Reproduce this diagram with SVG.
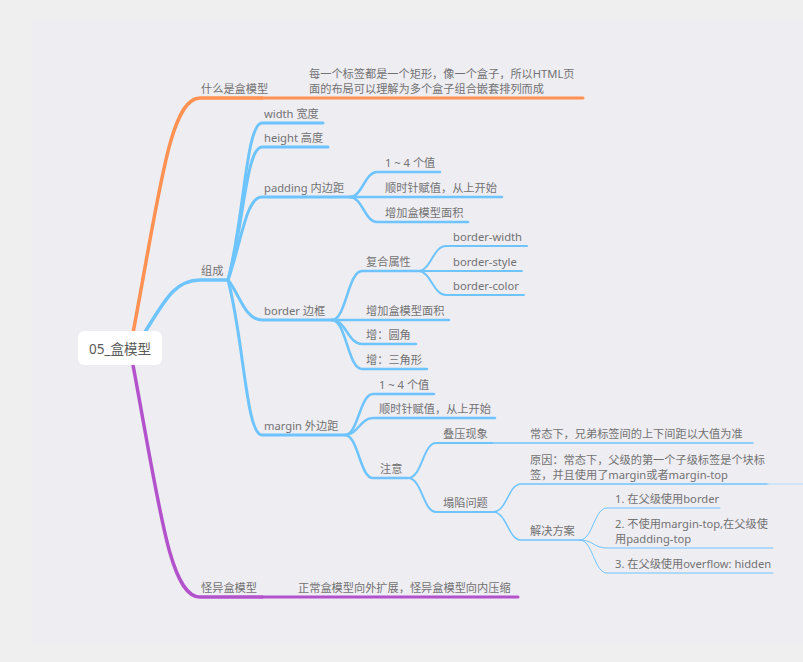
<svg xmlns="http://www.w3.org/2000/svg" width="803" height="662" viewBox="0 0 803 662">
<style>
text{font-family:'Noto Sans','Noto Sans CJK SC',sans-serif;font-size:11.2px;fill:#727272}
.root{font-size:13.5px;fill:#5a5a5a}
path{fill:none;stroke-linecap:round;stroke-linejoin:round}
.o{stroke:#ff9152}
.b{stroke:#6ec4ff}
.p{stroke:#b353cc}
.w1{stroke-width:3.5}
.w2{stroke-width:3}
.w3{stroke-width:2.5}
.w4{stroke-width:2}
.w5{stroke-width:1.5}
.w6{stroke-width:1}
</style>
<rect x="0" y="0" width="803" height="662" fill="#efefef"/>
<rect x="32" y="19" width="771" height="625" fill="#eeedf2"/>
<g id="connectors">
<path class="o w1" d="M133,333 C160,190 170,98 200,98 L262,98"/>
<path class="o w2" d="M262,98 L583,98"/>
<path class="b w1" d="M145,332 C165,300 175,280 200,280 L228,280"/>
<path class="p w1" d="M133,365 C160,510 170,597 200,597 L262,597"/>
<path class="p w2" d="M262,597 L518,597"/>
<path class="b w2" d="M228,280 C244,220 246,123 262,123 L323,123"/>
<path class="b w2" d="M228,280 C244,225 246,147 262,147 L328,147"/>
<path class="b w2" d="M228,280 C242,240 246,197 262,197 L350,197"/>
<path class="b w2" d="M228,280 C240,295 245,320 262,320 L332,320"/>
<path class="b w2" d="M228,280 C244,340 246,435 262,435 L345,435"/>
<path class="b w3" d="M350,197 C362,197 365,172 377,172 L440,172"/>
<path class="b w3" d="M350,197 L502,197"/>
<path class="b w3" d="M350,197 C362,197 365,222 377,222 L468,222"/>
<path class="b w3" d="M332,320 C346,320 348,271 362,271 L418,271"/>
<path class="b w3" d="M332,320 L449,320"/>
<path class="b w3" d="M332,320 C346,320 348,344 362,344 L416,344"/>
<path class="b w3" d="M332,320 C346,320 348,369 362,369 L427,369"/>
<path class="b w4" d="M418,271 C431,271 433,246 446,246 L527,246"/>
<path class="b w4" d="M418,271 L522,271"/>
<path class="b w4" d="M418,271 C431,271 433,295 446,295 L524,295"/>
<path class="b w3" d="M345,435 C358,435 360,394 373,394 L434,394"/>
<path class="b w3" d="M345,435 C358,435 360,418 373,418 L495,418"/>
<path class="b w3" d="M345,435 C358,435 360,478 373,478 L408,478"/>
<path class="b w4" d="M408,478 C422,478 423,443 436,443 L492,443"/>
<path class="b w5" d="M492,443 L753,443"/>
<path class="b w4" d="M408,478 C422,478 423,512 436,512 L493,512"/>
<path class="b w5" d="M493,512 C507,512 508,484 521,484 L768,484"/>
<path stroke="#c6e3f8" class="w5" d="M768,484 L803,484"/>
<path class="b w5" d="M493,512 C507,512 508,540 521,540 L580,540"/>
<path class="b w6" d="M580,540 C593,540 594,508 607,508 L720,508"/>
<path class="b w6" d="M580,540 C593,540 594,548 607,548 L773,548"/>
<path class="b w6" d="M580,540 C593,540 594,573 607,573 L773,573"/>
</g>
<g id="root">
<rect x="78" y="331" width="84" height="34" rx="6" fill="#ffffff"/>
<text class="root" x="120" y="354" text-anchor="middle">05_盒模型</text>
</g>
<g id="n-what"><text x="201" y="93">什么是盒模型</text></g>
<g id="n-what-desc"><text x="309" y="78">每一个标签都是一个矩形，像一个盒子，所以HTML页</text><text x="309" y="93">面的布局可以理解为多个盒子组合嵌套排列而成</text></g>
<g id="n-compose"><text x="201" y="275">组成</text></g>
<g id="n-width"><text x="264" y="118">width 宽度</text></g>
<g id="n-height"><text x="264" y="142">height 高度</text></g>
<g id="n-padding"><text x="264" y="192">padding 内边距</text></g>
<g id="n-p1"><text x="385" y="167">1 ~ 4 个值</text></g>
<g id="n-p2"><text x="385" y="192">顺时针赋值，从上开始</text></g>
<g id="n-p3"><text x="385" y="217">增加盒模型面积</text></g>
<g id="n-border"><text x="264" y="315">border 边框</text></g>
<g id="n-b1"><text x="366" y="266">复合属性</text></g>
<g id="n-bw"><text x="453" y="241">border-width</text></g>
<g id="n-bs"><text x="453" y="266">border-style</text></g>
<g id="n-bc"><text x="453" y="290">border-color</text></g>
<g id="n-b2"><text x="366" y="315">增加盒模型面积</text></g>
<g id="n-b3"><text x="366" y="339">增：圆角</text></g>
<g id="n-b4"><text x="366" y="364">增：三角形</text></g>
<g id="n-margin"><text x="264" y="430">margin 外边距</text></g>
<g id="n-m1"><text x="379" y="389">1 ~ 4 个值</text></g>
<g id="n-m2"><text x="379" y="413">顺时针赋值，从上开始</text></g>
<g id="n-m3"><text x="380" y="473">注意</text></g>
<g id="n-overlap"><text x="443" y="438">叠压现象</text></g>
<g id="n-overlap-desc"><text x="530" y="438">常态下，兄弟标签间的上下间距以大值为准</text></g>
<g id="n-collapse"><text x="443" y="507">塌陷问题</text></g>
<g id="n-reason"><text x="530" y="464">原因：常态下，父级的第一个子级标签是个块标</text><text x="530" y="479">签，并且使用了margin或者margin-top</text></g>
<g id="n-solve"><text x="530" y="535">解决方案</text></g>
<g id="n-s1"><text x="615" y="503">1. 在父级使用border</text></g>
<g id="n-s2"><text x="615" y="528">2. 不使用margin-top,在父级使</text><text x="615" y="543">用padding-top</text></g>
<g id="n-s3"><text x="615" y="568">3. 在父级使用overflow: hidden</text></g>
<g id="n-quirk"><text x="201" y="592">怪异盒模型</text></g>
<g id="n-quirk-desc"><text x="298" y="592">正常盒模型向外扩展，怪异盒模型向内压缩</text></g>
</svg>
